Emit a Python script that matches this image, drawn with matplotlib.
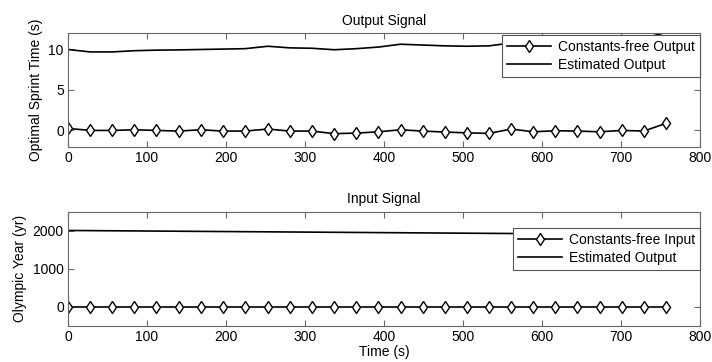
import matplotlib
matplotlib.use("Agg")
import matplotlib.pyplot as plt

plt.rcParams['font.family'] = ['Liberation Sans', 'DejaVu Sans']

time_s = [0, 28, 56, 84, 112, 140, 168, 196, 224, 253, 281, 309, 337, 365,
          393, 421, 449, 477, 505, 533, 561, 589, 617, 645, 673, 701, 729, 757]

out_free = [0.25, 0.0, 0.0, 0.08, 0.0, -0.08, 0.08, -0.08, -0.08, 0.17, -0.08, -0.08,
            -0.4, -0.33, -0.17, 0.08, -0.08, -0.2, -0.3, -0.37, 0.17, -0.17, -0.04,
            -0.08, -0.17, 0.0, -0.08, 0.87]
out_est = [10.0, 9.7, 9.7, 9.85, 9.92, 9.95, 10.0, 10.05, 10.1, 10.4, 10.2, 10.15,
           9.97, 10.1, 10.3, 10.65, 10.55, 10.45, 10.4, 10.45, 10.8, 10.9, 11.0,
           11.05, 11.1, 11.2, 11.4, 12.1]

in_free = [0.0] * 28
in_est = [2008, 2004, 2000, 1996, 1992, 1988, 1984, 1980, 1976, 1972, 1968, 1964,
          1960, 1956, 1952, 1948, 1944, 1940, 1936, 1932, 1928, 1924, 1920, 1916,
          1912, 1908, 1904, 1900]

fig = plt.figure(figsize=(7.12, 3.62), dpi=100)
ax1 = fig.add_axes([0.0955, 0.595, 0.8875, 0.313])
ax2 = fig.add_axes([0.0955, 0.100, 0.8875, 0.315])

FS = 10
spine_col = '#666666'

def style(ax):
    for s in ax.spines.values():
        s.set_color(spine_col)
        s.set_linewidth(0.8)
    ax.tick_params(direction='in', top=True, right=True, length=4, width=0.8,
                   color=spine_col, labelsize=FS, labelcolor='black', pad=3)
    ax.set_xlim(0, 800)
    ax.set_xticks([0, 100, 200, 300, 400, 500, 600, 700, 800])

mk = dict(marker='d', markersize=6.5, markerfacecolor='white', markeredgecolor='black',
          markeredgewidth=1.0, color='black', linewidth=1.2)

ax1.plot(time_s, out_free, label='Constants-free Output', **mk)
ax1.plot(time_s, out_est, color='black', linewidth=1.2, label='Estimated Output')
ax1.set_ylim(-2, 12)
ax1.set_yticks([0, 5, 10])
style(ax1)
ax1.set_title('Output Signal', fontsize=FS, pad=6)
ax1.set_ylabel('Optimal Sprint Time (s)', fontsize=FS)
leg1 = ax1.legend(loc='upper right', bbox_to_anchor=(1.0, 0.985), fontsize=FS,
                  fancybox=False, framealpha=1, edgecolor='#555555',
                  borderpad=0.35, labelspacing=0.3, handlelength=3.2, handletextpad=0.5,
                  borderaxespad=0)
leg1.get_frame().set_linewidth(0.8)

ax2.plot(time_s, in_free, label='Constants-free Input', **mk)
ax2.plot(time_s, in_est, color='black', linewidth=1.2, label='Estimated Output')
ax2.set_ylim(-500, 2500)
ax2.set_yticks([0, 1000, 2000])
style(ax2)
ax2.set_title('Input Signal', fontsize=FS, pad=6)
ax2.set_ylabel('Olympic Year (yr)', fontsize=FS)
ax2.set_xlabel('Time (s)', fontsize=FS, labelpad=1)
leg2 = ax2.legend(loc='upper right', bbox_to_anchor=(1.0, 0.86), fontsize=FS,
                  fancybox=False, framealpha=1, edgecolor='#555555',
                  borderpad=0.35, labelspacing=0.3, handlelength=3.2, handletextpad=0.5,
                  borderaxespad=0)
leg2.get_frame().set_linewidth(0.8)

fig.savefig('out.png', dpi=100)
